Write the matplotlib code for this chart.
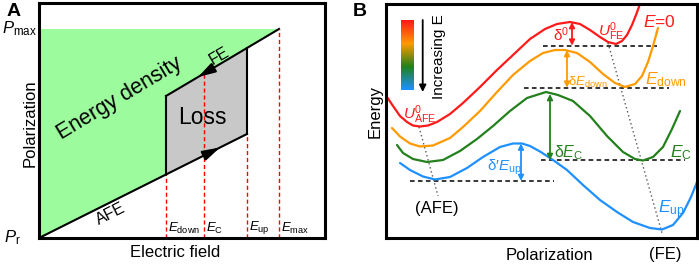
import numpy as np
import matplotlib
matplotlib.use('Agg')
import matplotlib.pyplot as plt
from matplotlib import transforms
from matplotlib.colors import LinearSegmentedColormap

plt.rcParams['font.family'] = ['Liberation Sans', 'DejaVu Sans']
plt.rcParams['mathtext.fontset'] = 'custom'
plt.rcParams['mathtext.rm'] = 'Liberation Sans'
plt.rcParams['mathtext.it'] = 'Liberation Sans:italic'
plt.rcParams['mathtext.bf'] = 'Liberation Sans:bold'

# ---------------- panel A : P-E loop (arbitrary units) ----------------
E_down, E_C, E_up, E_max = 127, 165, 208, 240
P_max = 209
afe_E = [0, E_down, E_up]
afe_P = [0, 63.5, 104]
fe_E = [E_down, E_C, E_up, E_max]
fe_P = [142, 164.5, 190, 209]
field_ticks = [E_down, E_C, E_up, E_max]
field_labels = [r'$E_{\rm down}$', r'$E_{\rm C}$', r'$E_{\rm up}$', r'$E_{\rm max}$']

# ---------------- panel B : energy vs polarization ----------------
pol_0 = [1, 7, 14, 21, 27, 34, 42, 51, 64, 77, 94, 111, 127, 144, 159, 171, 184,
         194, 204, 214, 222, 230, 236, 241, 246, 250, 254]
en_0 = [141, 132, 122, 116, 112.5, 111.5, 112.5, 116, 124, 135, 151, 168, 183, 199,
        209, 214, 216, 214, 208, 201, 196, 194, 197, 203, 213, 223, 234]

pol_down = [6, 14, 24, 34, 47, 64, 77, 94, 111, 127, 144, 157, 169, 179, 191, 204,
            217, 229, 239, 249, 256, 262, 267, 272]
en_down = [110, 101.5, 94.5, 91.5, 92.5, 100, 111, 127, 146, 163, 177, 185, 188, 188,
           185, 176, 164, 155, 151, 154, 162, 176, 192, 210]

pol_c = [11, 17, 27, 41, 57, 74, 91, 107, 124, 141, 160, 172, 187, 204, 221, 237,
         249, 257, 267, 277, 286, 294]
en_c = [93, 85, 79, 76, 78, 87, 99, 112, 127, 140, 146, 143, 137, 122, 102, 86,
        79, 77.5, 81, 91, 109, 127]

pol_up = [14, 24, 37, 49, 64, 81, 97, 114, 127, 136, 144, 154, 167, 181, 197, 214,
          231, 247, 264, 276, 287, 297, 305, 311]
en_up = [75, 68, 61.5, 58.5, 61, 70, 81, 91, 94.5, 94.5, 92, 86.5, 78, 68, 53, 38,
         26, 16, 10, 8.5, 13, 25, 41, 56]

# reference levels (dashed) and barrier arrows, order: E=0, Edown, EC, Eup
level_E = [192.3, 150.3, 78, 57]
level_x0 = [157, 138, 155, 24]
level_x1 = [271, 283, 299, 168]
barrier_x = [186, 181, 164, 135]
barrier_top = [216, 188, 144, 94.5]

# minima tracks (dotted)
afe_track_x = [33, 52]
afe_track_E = [111, 42]
fe_track_x = [222, 276]
fe_track_E = [195, 5]

red, orange, green, blue = '#ff1a1a', '#ff9a00', '#23801c', '#1e90ff'
curve_colors = [red, orange, green, blue]

W, H = 699, 264
fig = plt.figure(figsize=(W / 100, H / 100), dpi=100)

def box(l, t, r, b):
    return [l / W, 1 - b / H, (r - l) / W, (b - t) / H]

# ================= A =================
axa = fig.add_axes(box(39, 3, 325, 238))
axa.set_xlim(0, 286)
axa.set_ylim(0, 235)

fill_x = [0, 0] + fe_E[::-1] + [E_down]
fill_y = [0, P_max] + fe_P[::-1] + [afe_P[1]]
axa.fill(fill_x, fill_y, color='#9cfb9c', lw=0)
loss_x = [E_down, E_down, E_up, E_up]
loss_y = [afe_P[1], fe_P[0], fe_P[2], afe_P[2]]
axa.fill(loss_x, loss_y, color='#c8c8c8', lw=0)

axa.plot(afe_E, afe_P, color='k', lw=1.5)
axa.plot(fe_E, fe_P, color='k', lw=1.5)
axa.plot([E_down, E_down], [afe_P[1], fe_P[0]], color='k', lw=1.5)
axa.plot([E_up, E_up], [afe_P[2], fe_P[2]], color='k', lw=1.5)

tops = [np.interp(E_down, afe_E, afe_P), np.interp(E_C, fe_E, fe_P),
        np.interp(E_up, afe_E, afe_P), P_max]
for e, top, lab in zip(field_ticks, tops, field_labels):
    axa.plot([e, e], [0, top], color='red', lw=1, dashes=(3, 2))
    axa.text(e + 2, 2, lab, fontsize=9.5, ha='left', va='bottom')

# direction arrows along the branches
head = dict(arrowstyle='-|>,head_length=0.75,head_width=0.22', color='k', lw=1.5,
            mutation_scale=14, shrinkA=0, shrinkB=0)
tip = 159
axa.annotate('', xy=(tip, np.interp(tip, fe_E, fe_P)),
             xytext=(tip + 14, np.interp(tip + 14, fe_E, fe_P)), arrowprops=head)
tip = 181
axa.annotate('', xy=(tip, np.interp(tip, afe_E, afe_P)),
             xytext=(tip - 14, np.interp(tip - 14, afe_E, afe_P)), arrowprops=head)

axa.text(80, 140, 'Energy density', rotation=31, fontsize=15.5, ha='center', va='center')
axa.text(163, 121, 'Loss', fontsize=16.5, ha='center', va='center')
axa.text(180, 182, 'FE', rotation=30, fontsize=11.5, ha='center', va='center')
axa.text(72, 24.5, 'AFE', rotation=27, fontsize=11.5, ha='center', va='center')

trans = transforms.blended_transform_factory(axa.transAxes, axa.transData)
axa.text(-0.129, P_max, r'$P_{\rm max}$', transform=trans, fontsize=12,
         ha='left', va='center')
axa.text(-0.124, 0, r'$P_{\rm r}$', transform=trans, fontsize=12,
         ha='left', va='center')
axa.set_xticks([])
axa.set_yticks([])
for s in axa.spines.values():
    s.set_linewidth(2.2)

fig.text(175 / W, 1 - 252.5 / H, 'Electric field', fontsize=12, ha='center', va='center')
fig.text(30 / W, 1 - 123.5 / H, 'Polarization', fontsize=12, rotation=90,
         ha='center', va='center')
fig.text(14 / W, 1 - 11.7 / H, 'A', fontsize=14, fontweight='bold', ha='center', va='center')

# ================= B =================
axb = fig.add_axes(box(386, 4, 697, 238))
axb.set_xlim(0, 311)
axb.set_ylim(0, 234)

for x0, x1, lv in zip(level_x0, level_x1, level_E):
    axb.plot([x0, x1], [lv, lv], color='k', lw=1.1, dashes=(3, 2.2))
axb.plot(afe_track_x, afe_track_E, color='#555555', lw=1, ls=(0, (1, 2)))
axb.plot(fe_track_x, fe_track_E, color='#555555', lw=1, ls=(0, (1, 2)))

curves = [(pol_0, en_0), (pol_down, en_down), (pol_c, en_c), (pol_up, en_up)]
for (px, pe), c in zip(curves, curve_colors):
    axb.plot(px, pe, color=c, lw=1.6, solid_capstyle='round')

for bx, bt, bb, c in zip(barrier_x, barrier_top, level_E, curve_colors):
    axb.annotate('', xy=(bx, bb), xytext=(bx, bt),
                 arrowprops=dict(arrowstyle='<|-|>', color=c, lw=1.3,
                                 mutation_scale=8, shrinkA=0, shrinkB=0))

# colour bar and arrow
cmap = LinearSegmentedColormap.from_list('e', [blue, green, orange, red])
axb.imshow(np.linspace(0, 1, 100).reshape(-1, 1), extent=[15, 27.3, 148, 217.3],
           origin='lower', cmap=cmap, aspect='auto', zorder=3)
axb.annotate('', xy=(36.7, 146), xytext=(36.7, 218),
             arrowprops=dict(arrowstyle='-|>', color='k', lw=1.3, mutation_scale=10,
                             shrinkA=0, shrinkB=0))
axb.text(53, 181, 'Increasing E', rotation=90, fontsize=11, ha='center', va='center')

axb.text(257, 216, r'$E$=0', color=red, fontsize=12.5, ha='left', va='center')
axb.text(259, 158, r'$E_{\rm down}$', color=orange, fontsize=12.5, ha='left', va='center')
axb.text(284, 85, r'$E_{\rm C}$', color=green, fontsize=12.5, ha='left', va='center')
axb.text(272, 28, r'$E_{\rm up}$', color=blue, fontsize=12.5, ha='left', va='center')
axb.text(17, 123, r'$U^{0}_{\rm AFE}$', color=red, fontsize=11, ha='left', va='center')
axb.text(212, 206, r'$U^{0}_{\rm FE}$', color=red, fontsize=11, ha='left', va='center')
axb.text(183, 203, 'δ$^{0}$', color=red, fontsize=11, ha='right', va='center')
axb.text(182, 156, r'δ$E_{\rm down}$', color=orange, fontsize=9.5, ha='left', va='center')
axb.text(168, 85, r'δ$E_{\rm C}$', color=green, fontsize=11.5, ha='left', va='center')
axb.text(101, 71, r'δ′$E_{\rm up}$', color=blue, fontsize=11, ha='left', va='center')
axb.text(51, 29, '(AFE)', fontsize=12, ha='center', va='center')
axb.set_xticks([])
axb.set_yticks([])
for s in axb.spines.values():
    s.set_linewidth(2.2)

fig.text(549 / W, 1 - 255 / H, 'Polarization', fontsize=12, ha='center', va='center')
fig.text(665 / W, 1 - 255 / H, '(FE)', fontsize=12, ha='center', va='center')
fig.text(375 / W, 1 - 111 / H, 'Energy', fontsize=12, rotation=90, ha='center', va='center')
fig.text(360 / W, 1 - 11.5 / H, 'B', fontsize=14, fontweight='bold', ha='center', va='center')

fig.savefig('out.png', dpi=100)
